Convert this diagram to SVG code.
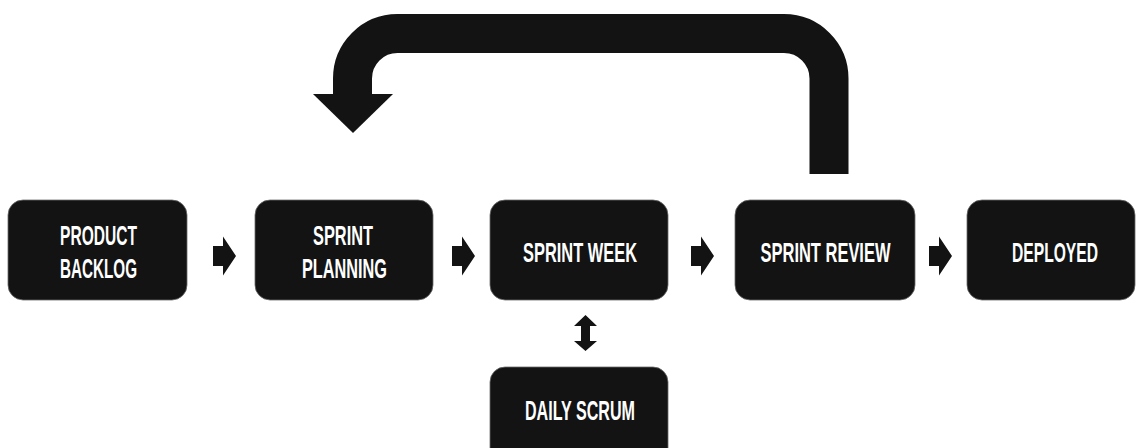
<svg xmlns="http://www.w3.org/2000/svg" width="1140" height="448" viewBox="0 0 1140 448">
  <style>
    .box { fill: #131313; stroke: #6a6a6a; stroke-width: 0.8; }
    .lbl { fill: #ffffff; font-family: "Liberation Sans Narrow", "Liberation Sans", Arial, sans-serif; font-weight: bold; font-size: 28px; text-anchor: middle; }
    .arr { fill: #131313; }
  </style>
  <defs>
    <path id="rarrow" d="M0,-10 H10 V-19.5 L23,0 L10,19.5 V10 H0 Z"/>
  </defs>
  <rect x="0" y="0" width="1140" height="448" fill="#ffffff"/>

  <g id="connectors" class="arr">
    <use href="#rarrow" x="213" y="256"/>
    <use href="#rarrow" x="452" y="256"/>
    <use href="#rarrow" x="691" y="256"/>
    <use href="#rarrow" x="929" y="256"/>
    <path d="M585.5,315 L597,326 H590 V341 H597 L585.5,351 L574,341 H581 V326 H574 Z"/>
    <path d="M829,174 V78.5 A45,45 0 0 0 784,33.5 H397.5 A45,45 0 0 0 352.5,78.5 V95" fill="none" stroke="#131313" stroke-width="39"/>
    <polygon points="313,94 393,94 353,133"/>
  </g>

  <g id="product-backlog">
    <rect class="box" x="8" y="200" width="179" height="100" rx="15"/>
    <text class="lbl" x="98.5" y="245" textLength="77" lengthAdjust="spacingAndGlyphs">PRODUCT</text>
    <text class="lbl" x="98.5" y="278" textLength="77" lengthAdjust="spacingAndGlyphs">BACKLOG</text>
  </g>
  <g id="sprint-planning">
    <rect class="box" x="255" y="200" width="178" height="100" rx="15"/>
    <text class="lbl" x="343" y="245" textLength="60" lengthAdjust="spacingAndGlyphs">SPRINT</text>
    <text class="lbl" x="344.5" y="278" textLength="85" lengthAdjust="spacingAndGlyphs">PLANNING</text>
  </g>
  <g id="sprint-week">
    <rect class="box" x="490" y="200" width="178" height="100" rx="15"/>
    <text class="lbl" x="580" y="262" textLength="114" lengthAdjust="spacingAndGlyphs">SPRINT WEEK</text>
  </g>
  <g id="sprint-review">
    <rect class="box" x="735" y="200" width="180" height="100" rx="15"/>
    <text class="lbl" x="825.5" y="262" textLength="130" lengthAdjust="spacingAndGlyphs">SPRINT REVIEW</text>
  </g>
  <g id="deployed">
    <rect class="box" x="967" y="200" width="168" height="100" rx="15"/>
    <text class="lbl" x="1055" y="262" textLength="86" lengthAdjust="spacingAndGlyphs">DEPLOYED</text>
  </g>
  <g id="daily-scrum">
    <rect class="box" x="490" y="367" width="178" height="100" rx="15"/>
    <text class="lbl" x="580" y="420" textLength="110" lengthAdjust="spacingAndGlyphs">DAILY SCRUM</text>
  </g>
</svg>
